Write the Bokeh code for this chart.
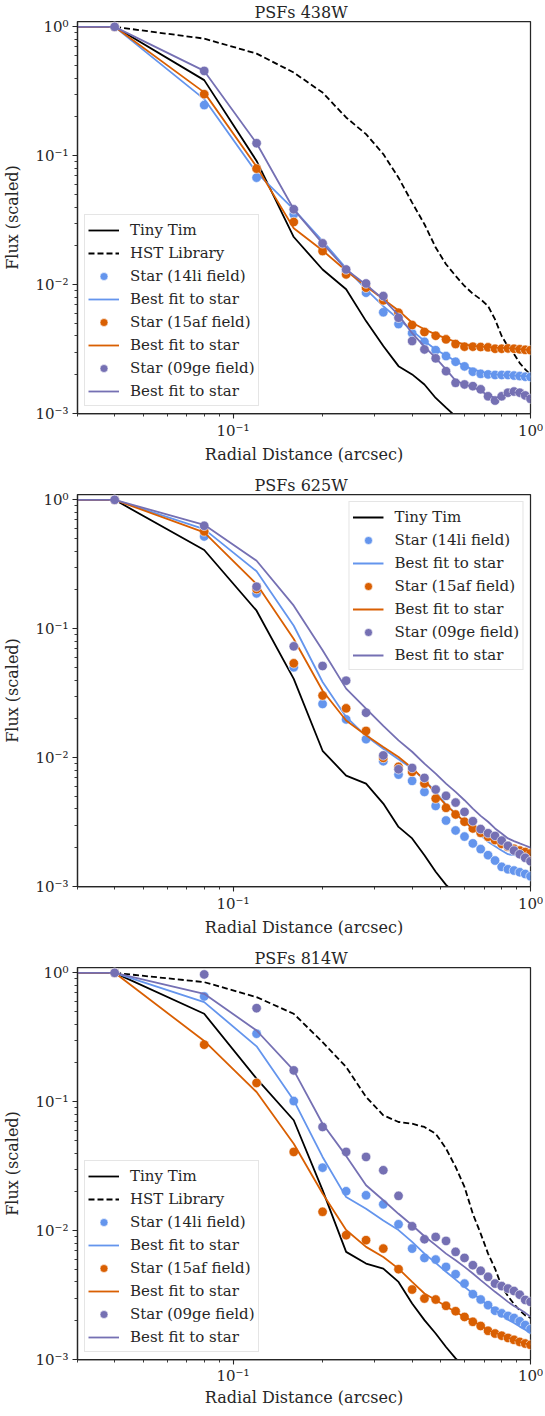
from bokeh.plotting import figure
from bokeh.models import (Range1d, Legend, LegendItem, CustomJSTickFormatter, FixedTicker,
                          GlobalInlineStyleSheet)
from bokeh.layouts import column
from bokeh.embed import file_html
from bokeh.resources import INLINE

# ---------------- data ----------------
# radial bins (arcsec); the first bin is the centre (r = 0)
radius = [0.0, 0.04, 0.08, 0.12, 0.16, 0.20, 0.24, 0.28, 0.32, 0.36, 0.40, 0.44, 0.48,
          0.52, 0.56, 0.60, 0.64, 0.68, 0.72, 0.76, 0.80, 0.84, 0.88, 0.92, 0.96, 1.00]

# axis ticks
x_major = [0.1, 1.0]
y_major = [0.001, 0.01, 0.1, 1.0]

# PSFs 438W
tiny_438 = [1.0, 1.0, 0.386, 0.0911, 0.0234, 0.0131, 0.0092, 0.00521, 0.00334, 0.00233, 0.00201,
            0.00168, 0.00132, 0.00111, 0.00095, 0.00085]
hst_438 = [1.0, 1.0, 0.81, 0.62, 0.442, 0.309, 0.198, 0.147, 0.103, 0.0676, 0.0433, 0.0294, 0.0194,
           0.0144, 0.0117, 0.00976, 0.0085, 0.00769, 0.00682, 0.00537, 0.00399, 0.0033, 0.0029,
           0.00246, 0.0022, 0.0020]
star14_438 = [1.0, 1.0, 0.247, 0.0676, 0.0351, 0.020, 0.0127, 0.00865, 0.0061, 0.00494, 0.0042,
              0.0036, 0.0031, 0.00279, 0.00252, 0.00232, 0.00211, 0.00203, 0.00201, 0.00199, 0.00199,
              0.00199, 0.00197, 0.00195, 0.00193, 0.00192]
fit14_438 = [1.0, 1.0, 0.275, 0.0739, 0.0384, 0.0218, 0.0134, 0.0092, 0.0068, 0.0054, 0.0044, 0.00365,
             0.00314, 0.00282, 0.00255, 0.00233, 0.0022, 0.00211, 0.00205, 0.00201, 0.00199, 0.00198,
             0.00197, 0.00196, 0.00195, 0.00194]
star15_438 = [1.0, 1.0, 0.300, 0.0794, 0.0306, 0.0182, 0.0120, 0.00946, 0.00755, 0.00605, 0.00486,
              0.00429, 0.00401, 0.00376, 0.00346, 0.0033, 0.0033, 0.00328, 0.00326, 0.00318, 0.00318,
              0.0032, 0.00318, 0.00315, 0.00312, 0.0031]
fit15_438 = [1.0, 1.0, 0.31, 0.0823, 0.0274, 0.0184, 0.0128, 0.0097, 0.0077, 0.0063, 0.00506, 0.0045,
             0.00411, 0.00383, 0.0036, 0.00344, 0.00335, 0.00331, 0.00328, 0.00325, 0.00323, 0.00321,
             0.00319, 0.00316, 0.00313, 0.0031]
star09_438 = [1.0, 1.0, 0.455, 0.125, 0.0384, 0.0209, 0.0131, 0.0102, 0.00815, 0.00553, 0.00365,
              0.00314, 0.00268, 0.00213, 0.00173, 0.00168, 0.00163, 0.00154, 0.00136, 0.00126,
              0.00136, 0.00145, 0.00148, 0.00145, 0.00138, 0.0013]
fit09_438 = [1.0, 1.0, 0.455, 0.125, 0.0384, 0.0209, 0.0131, 0.0100, 0.0077, 0.0058, 0.0042, 0.0033,
             0.0027, 0.0022, 0.0018, 0.00168, 0.0016, 0.0015, 0.00138, 0.00132, 0.00136, 0.00142,
             0.00146, 0.00144, 0.00138, 0.0013]

# PSFs 625W
tiny_625 = [1.0, 1.0, 0.408, 0.138, 0.0408, 0.0113, 0.00725, 0.00629, 0.0044, 0.0029, 0.00236,
            0.00175, 0.0013, 0.00103, 0.00088, 0.00078]
star14_625 = [1.0, 1.0, 0.520, 0.188, 0.0502, 0.0261, 0.0198, 0.0139, 0.00937, 0.00738, 0.0066,
              0.00542, 0.00422, 0.00325, 0.00272, 0.00244, 0.00216, 0.00195, 0.00175, 0.00159,
              0.00142, 0.00136, 0.00133, 0.00129, 0.00125, 0.0012]
fit14_625 = [1.0, 1.0, 0.593, 0.279, 0.1055, 0.0386, 0.0207, 0.0147, 0.0117, 0.0097, 0.00822,
             0.00668, 0.00542, 0.00432, 0.00368, 0.00318, 0.00279, 0.0025, 0.00222, 0.00205, 0.0019,
             0.00178, 0.00175, 0.00173, 0.00171, 0.0017]
star15_625 = [1.0, 1.0, 0.569, 0.203, 0.0539, 0.0303, 0.0241, 0.0161, 0.00995, 0.00848, 0.00775,
              0.00629, 0.00481, 0.00408, 0.00362, 0.00318, 0.00282, 0.00261, 0.00243, 0.00229,
              0.00214, 0.00203, 0.00196, 0.0019, 0.00185, 0.0018]
fit15_625 = [1.0, 1.0, 0.559, 0.222, 0.0832, 0.033, 0.0194, 0.0149, 0.0121, 0.0101, 0.00831, 0.00668,
             0.00526, 0.00428, 0.00368, 0.00318, 0.00282, 0.00258, 0.00239, 0.00222, 0.00211,
             0.00198, 0.00195, 0.00193, 0.00191, 0.0019]
star09_625 = [1.0, 1.0, 0.629, 0.212, 0.073, 0.0514, 0.0395, 0.0223, 0.0104, 0.00812, 0.00831,
              0.00696, 0.00565, 0.00505, 0.00448, 0.00379, 0.00321, 0.00279, 0.00259, 0.00247,
              0.00227, 0.00207, 0.0019, 0.00178, 0.00167, 0.00157]
fit09_625 = [1.0, 1.0, 0.640, 0.337, 0.151, 0.068, 0.0343, 0.024, 0.0176, 0.0136, 0.0111, 0.00898,
             0.00751, 0.00629, 0.00542, 0.00467, 0.00402, 0.00353, 0.00318, 0.00282, 0.00258,
             0.00236, 0.00225, 0.00216, 0.00208, 0.0020]

# PSFs 814W
tiny_814 = [1.0, 1.0, 0.481, 0.151, 0.0718, 0.0206, 0.00684, 0.00555, 0.00507, 0.004, 0.00272,
            0.00202, 0.00159, 0.00125, 0.00102, 0.00088]
hst_814 = [1.0, 1.0, 0.847, 0.648, 0.481, 0.290, 0.186, 0.109, 0.0785, 0.0696, 0.0675, 0.0637,
           0.0565, 0.0433, 0.0312, 0.0218, 0.0135, 0.00948, 0.00663, 0.00507, 0.0037, 0.0031,
           0.0027, 0.0024, 0.0022, 0.0021]
star14_814 = [1.0, 1.0, 0.656, 0.337, 0.1012, 0.0308, 0.0202, 0.0188, 0.016, 0.0112, 0.00725,
              0.00614, 0.00596, 0.00523, 0.00459, 0.00388, 0.00321, 0.00292, 0.00264, 0.00239,
              0.00228, 0.00218, 0.0021, 0.00198, 0.00185, 0.00172]
fit14_814 = [1.0, 1.0, 0.593, 0.269, 0.1025, 0.0373, 0.0182, 0.0148, 0.012, 0.0101, 0.00817, 0.00663,
             0.00562, 0.00479, 0.00417, 0.00366, 0.00325, 0.00292, 0.00264, 0.00242, 0.00221,
             0.00204, 0.00192, 0.0018, 0.0017, 0.0016]
star15_814 = [1.0, 1.0, 0.277, 0.140, 0.0408, 0.014, 0.00921, 0.00843, 0.00725, 0.00502, 0.00349,
              0.00297, 0.00292, 0.00261, 0.00237, 0.00214, 0.00196, 0.00182, 0.00167, 0.00159,
              0.00153, 0.00147, 0.00142, 0.00137, 0.00133, 0.0013]
fit15_814 = [1.0, 1.0, 0.296, 0.119, 0.0472, 0.0194, 0.0101, 0.00748, 0.00625, 0.00507, 0.004,
             0.00325, 0.00289, 0.00259, 0.00234, 0.00214, 0.00199, 0.00183, 0.00169, 0.00161,
             0.00155, 0.00148, 0.00142, 0.00137, 0.00133, 0.0013]
star09_814 = [1.0, 1.0, 0.972, 0.532, 0.175, 0.0637, 0.0408, 0.0373, 0.0294, 0.0186, 0.0108,
              0.00857, 0.00893, 0.00832, 0.00684, 0.00614, 0.00539, 0.00488, 0.00438, 0.00388,
              0.00371, 0.00355, 0.0034, 0.00318, 0.0029, 0.0028]
fit09_814 = [1.0, 1.0, 0.688, 0.357, 0.175, 0.0675, 0.038, 0.0225, 0.0172, 0.0135, 0.011, 0.00904,
             0.00771, 0.00663, 0.00589, 0.00523, 0.00465, 0.00413, 0.00371, 0.00335, 0.00306,
             0.0028, 0.0026, 0.00245, 0.0023, 0.00215]

# ---------------- styling ----------------
SERIF = "DejaVu Serif"
INK = "#262626"
BLUE = "#6495ed"
ORANGE = "#d95f02"
PURPLE = "#7570b3"

x_minor = [m * d for d in (0.01, 0.1) for m in range(2, 10) if 0.03 <= m * d < 1.0]
y_minor = [m * d for d in (0.001, 0.01, 0.1) for m in range(2, 10)]

sup_fmt = CustomJSTickFormatter(code="""
const e = Math.round(Math.log10(tick));
const m = {'-':'\u207b','0':'\u2070','1':'\u00b9','2':'\u00b2','3':'\u00b3','4':'\u2074',
           '5':'\u2075','6':'\u2076','7':'\u2077','8':'\u2078','9':'\u2079'};
return '10' + String(e).split('').map(c => m[c]).join('');
""")


def log_x(rs):
    # the centre bin (r = 0) is clipped to the far left, as a log axis does
    return [r if r > 0 else 1e-3 for r in rs]


def make_panel(title, tiny, hst, stars, legend_loc, border_bottom, compact=False):
    p = figure(frame_width=453, frame_height=392, x_axis_type="log", y_axis_type="log",
               x_range=Range1d(0.03, 1.0), y_range=Range1d(1e-3, 1.1),
               output_backend="svg", toolbar_location=None,
               min_border_left=71, min_border_right=13, min_border_top=20,
               min_border_bottom=border_bottom, background_fill_color="white",
               border_fill_color="white")
    p.title.text = title
    # centre the title over the plotting frame
    p.title.align = "left"
    p.title.offset = 177
    p.title.text_font = SERIF
    p.title.text_font_size = "16px"
    p.title.text_font_style = "normal"
    p.title.text_color = INK
    p.title.standoff = 0
    p.grid.visible = False
    p.outline_line_color = INK
    p.outline_line_width = 1.25
    p.outline_line_alpha = 1.0

    p.xaxis.ticker = FixedTicker(ticks=x_major, minor_ticks=x_minor)
    p.yaxis.ticker = FixedTicker(ticks=y_major, minor_ticks=y_minor)
    for ax in (p.xaxis[0], p.yaxis[0]):
        ax.formatter = sup_fmt
        ax.axis_line_color = INK
        ax.axis_line_width = 1.25
        ax.major_tick_line_color = INK
        ax.minor_tick_line_color = INK
        ax.major_tick_line_width = 1.1
        ax.minor_tick_line_width = 0.9
        ax.major_tick_out = 5
        ax.major_tick_in = 0
        ax.minor_tick_out = 3
        ax.minor_tick_in = 0
        ax.major_label_text_font = SERIF
        ax.major_label_text_font_size = "15px"
        ax.major_label_text_color = INK
        ax.axis_label_text_font = SERIF
        ax.axis_label_text_font_size = "16px"
        ax.axis_label_text_font_style = "normal"
        ax.axis_label_text_color = INK
    p.xaxis.axis_label = "Radial Distance (arcsec)"
    p.xaxis.major_label_standoff = 2 if compact else 3
    p.xaxis.axis_label_standoff = 0 if compact else 2
    p.yaxis.axis_label = "Flux (scaled)"
    p.yaxis.major_label_standoff = 4
    p.yaxis.axis_label_standoff = 10

    items = []
    r_tiny = p.line(log_x(radius[:len(tiny)]), tiny, line_color="black", line_width=1.8)
    items.append(LegendItem(label="Tiny Tim", renderers=[r_tiny]))
    if hst is not None:
        r_hst = p.line(log_x(radius[:len(hst)]), hst, line_color="black", line_width=1.8,
                       line_dash="6 3")
        items.append(LegendItem(label="HST Library", renderers=[r_hst]))
    for name, star, fit, col in stars:
        r_s = p.scatter(radius[1:], star[1:], size=9.5, fill_color=col, line_color="white",
                        line_width=0.6, marker="circle")
        r_f = p.line(log_x(radius[:len(fit)]), fit, line_color=col, line_width=1.8)
        items.append(LegendItem(label=name, renderers=[r_s]))
        items.append(LegendItem(label="Best fit to star", renderers=[r_f]))

    leg = Legend(items=items, location=legend_loc)
    leg.label_text_font = SERIF
    leg.label_text_font_size = "15px"
    leg.label_text_color = INK
    leg.border_line_color = "#cccccc"
    leg.border_line_width = 1
    leg.background_fill_color = "white"
    leg.background_fill_alpha = 0.85
    leg.padding = 3
    leg.spacing = 0
    leg.label_height = 23
    leg.glyph_height = 20
    leg.glyph_width = 31
    leg.label_standoff = 11
    leg.margin = 7
    p.add_layout(leg)
    return p


p1 = make_panel("PSFs 438W", tiny_438, hst_438,
                [("Star (14li field)", star14_438, fit14_438, BLUE),
                 ("Star (15af field)", star15_438, fit15_438, ORANGE),
                 ("Star (09ge field)", star09_438, fit09_438, PURPLE)],
                "bottom_left", 60)
p2 = make_panel("PSFs 625W", tiny_625, None,
                [("Star (14li field)", star14_625, fit14_625, BLUE),
                 ("Star (15af field)", star15_625, fit15_625, ORANGE),
                 ("Star (09ge field)", star09_625, fit09_625, PURPLE)],
                "top_right", 60)
p3 = make_panel("PSFs 814W", tiny_814, hst_814,
                [("Star (14li field)", star14_814, fit14_814, BLUE),
                 ("Star (15af field)", star15_814, fit15_814, ORANGE),
                 ("Star (09ge field)", star09_814, fit09_814, PURPLE)],
                "bottom_left", 44, compact=True)

layout = column(p1, p2, p3,
                stylesheets=[GlobalInlineStyleSheet(css="html, body { overflow: hidden; }")])
open("out.html", "w").write(file_html(layout, INLINE))
